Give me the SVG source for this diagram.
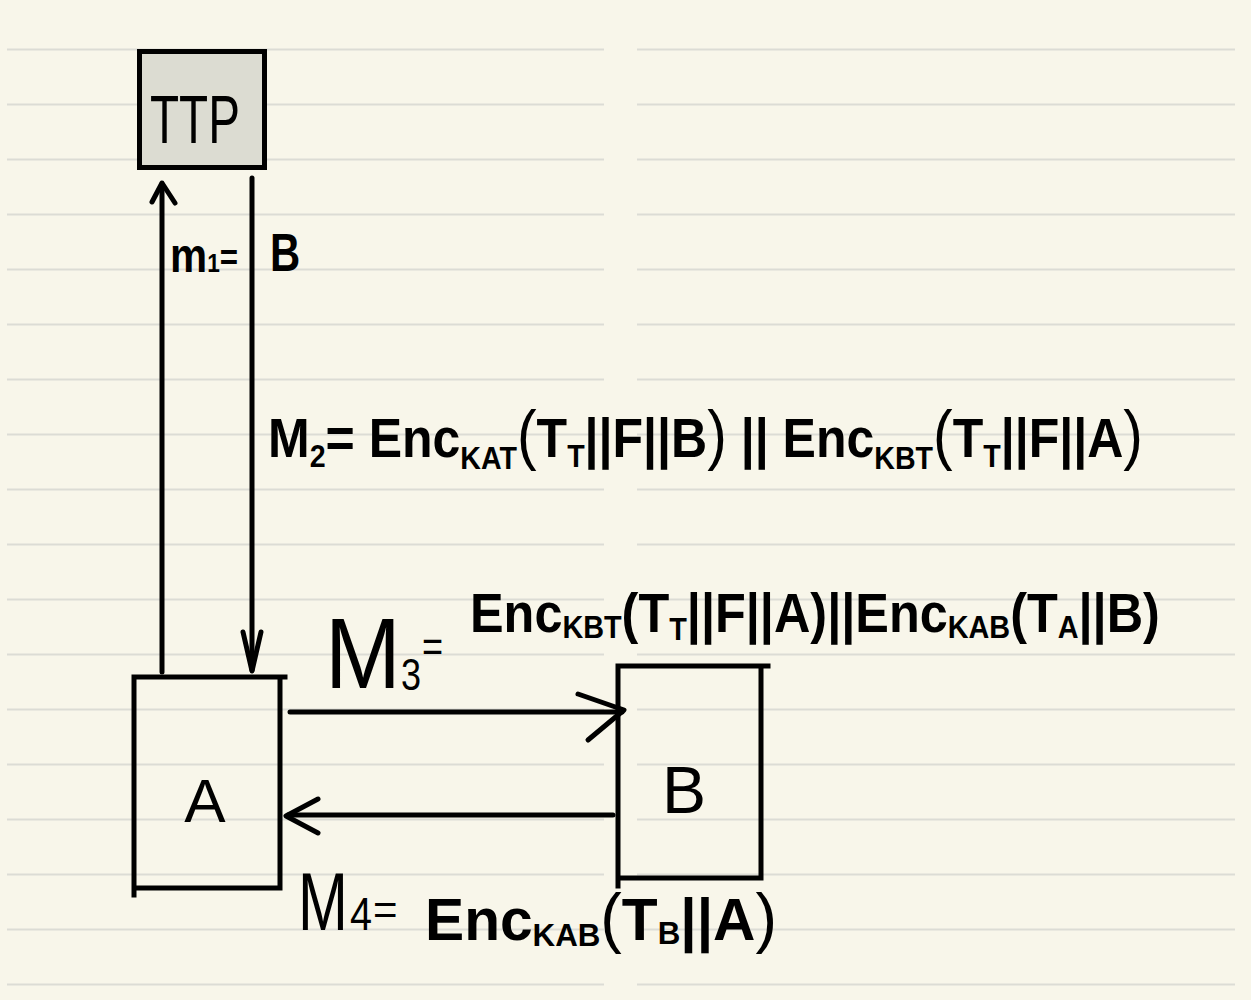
<svg xmlns="http://www.w3.org/2000/svg" width="1251" height="1000" viewBox="0 0 1251 1000">
<style>
.rule{stroke:#dcdcd5;stroke-width:2}
.box{fill:none;stroke:#000;stroke-width:5;stroke-linecap:square}
.edge{fill:none;stroke:#000;stroke-width:5;stroke-linecap:round;stroke-linejoin:round}
.head{fill:none;stroke:#000;stroke-width:5;stroke-linecap:round;stroke-linejoin:round}
.t{font-family:"Liberation Sans",Arial,sans-serif;fill:#000}
.b{font-weight:700}
.sub{font-size:32px}
.par{font-size:66px;font-weight:400}
</style>
<rect width="1251" height="1000" fill="#f8f6ea"/>
<g id="paper">
<path class="rule" d="M7 49.5H604M637 49.5H1235M7 104.5H604M637 104.5H1235M7 159.5H604M637 159.5H1235M7 214.5H604M637 214.5H1235M7 269.5H604M637 269.5H1235M7 324.5H604M637 324.5H1235M7 379.5H604M637 379.5H1235M7 434.5H604M637 434.5H1235M7 489.5H604M637 489.5H1235M7 544.5H604M637 544.5H1235M7 599.5H604M637 599.5H1235M7 654.5H604M637 654.5H1235M7 709.5H604M637 709.5H1235M7 764.5H604M637 764.5H1235M7 819.5H604M637 819.5H1235M7 874.5H604M637 874.5H1235M7 929.5H604M637 929.5H1235M7 984.5H604M637 984.5H1235"/>
</g>
<g id="node-ttp">
<rect x="139.5" y="51.5" width="125" height="116" fill="#dcdcd2" stroke="#000" stroke-width="5"/>
<text class="t" transform="translate(150,143) scale(0.7,1)" font-size="68">TTP</text>
</g>
<g id="node-a">
<path class="box" d="M134 677H285M134 677V895M134 888H280M280 677V888"/>
<text class="t" x="205" y="822" font-size="62" text-anchor="middle">A</text>
</g>
<g id="node-b">
<path class="box" d="M618 666H768M618 666V886M618 878H761M761 666V878"/>
<text class="t" x="684" y="813" font-size="66" text-anchor="middle">B</text>
</g>
<g id="connectors">
<path class="edge" d="M162 672V184"/>
<path class="head" d="M152 202L162 183L175 203"/>
<path class="edge" d="M252 178V670"/>
<path class="head" d="M243 632L252 671L261 632"/>
<path class="edge" d="M290 712H622"/>
<path class="head" d="M578 694L624 710L588 740"/>
<path class="edge" d="M613 815H288"/>
<path class="head" d="M318 799L286 816L318 833"/>
</g>
<g id="labels">
<text class="t b" transform="translate(170,272) scale(0.87,1)" font-size="48">m<tspan font-size="26">1</tspan><tspan font-size="36" dy="-2">=</tspan></text>
<text class="t b" transform="translate(270,271) scale(0.79,1)" font-size="53">B</text>
<text class="t b" transform="translate(268,457) scale(0.893,1)" font-size="56">M<tspan class="sub" dy="10">2</tspan><tspan dy="-10">= Enc</tspan><tspan class="sub" dy="12">KAT</tspan><tspan class="par" dy="-12">(</tspan><tspan>T</tspan><tspan class="sub" dy="10">T</tspan><tspan dy="-10">||F||B</tspan><tspan class="par">)</tspan><tspan> || Enc</tspan><tspan class="sub" dy="12">KBT</tspan><tspan class="par" dy="-12">(</tspan><tspan>T</tspan><tspan class="sub" dy="10">T</tspan><tspan dy="-10">||F||A</tspan><tspan class="par">)</tspan></text>
<text class="t" transform="translate(325,688) scale(0.91,1)" font-size="100">M</text>
<text class="t" transform="translate(401,690) scale(0.82,1)" font-size="44">3</text>
<text class="t" transform="translate(422,662) scale(0.82,1)" font-size="44">=</text>
<text class="t b" transform="translate(470,632) scale(0.9,1)" font-size="56">Enc<tspan class="sub" dy="6">KBT</tspan><tspan dy="-6">(T</tspan><tspan class="sub" dy="8">T</tspan><tspan dy="-8">||F||A)||Enc</tspan><tspan class="sub" dy="6">KAB</tspan><tspan dy="-6">(T</tspan><tspan class="sub" dy="6">A</tspan><tspan dy="-6">||B)</tspan></text>
<text class="t" transform="translate(298,930) scale(0.73,1)" font-size="82">M</text>
<text class="t" transform="translate(350,930) scale(0.86,1)" font-size="46">4</text>
<text class="t" transform="translate(373,924)" font-size="42">=</text>
<text class="t b" transform="translate(425,940) scale(0.978,1)" font-size="60">Enc<tspan class="sub" dy="6">KAB</tspan><tspan class="par" dy="-6">(</tspan><tspan>T</tspan><tspan class="sub" dy="4">B</tspan><tspan dy="-4">||A</tspan><tspan class="par">)</tspan></text>
</g>
</svg>
